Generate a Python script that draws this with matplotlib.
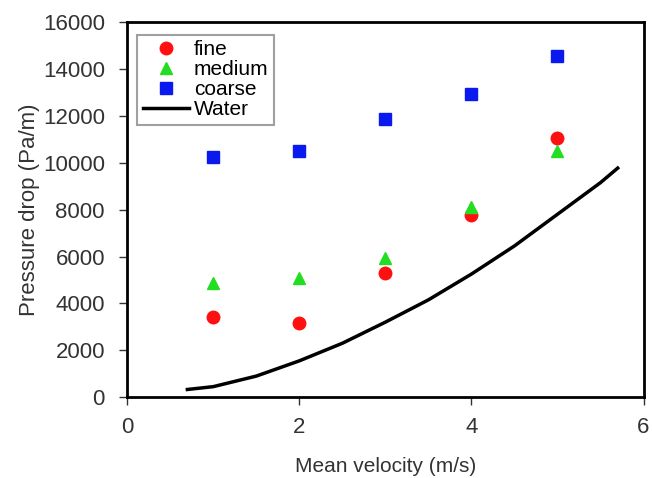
import numpy as np
import matplotlib.pyplot as plt

plt.rcParams['font.family'] = ['Liberation Sans', 'DejaVu Sans']

velocity = [1, 2, 3, 4, 5]
fine = [3400, 3150, 5300, 7750, 11050]
medium = [4850, 5100, 5950, 8100, 10500]
coarse = [10250, 10500, 11850, 12950, 14550]

water_v = [0.7, 1.0, 1.5, 2.0, 2.5, 3.0, 3.5, 4.0, 4.5, 5.0, 5.5, 5.7]
water_dp = [330, 450, 900, 1550, 2300, 3200, 4150, 5250, 6450, 7800, 9150, 9770]

fig = plt.figure(figsize=(6.52, 4.78), dpi=100)
ax = fig.add_axes([0.195, 0.169, 0.792, 0.785])

ax.plot(velocity, fine, 'o', color='#ff1010', markersize=9, label='fine', linestyle='none')
ax.plot(velocity, medium, '^', color='#22dd22', markersize=9, label='medium', linestyle='none')
ax.plot(velocity, coarse, 's', color='#0a1aee', markersize=9, label='coarse', linestyle='none')
ax.plot(water_v, water_dp, '-', color='black', linewidth=2.5, label='Water')

ax.set_xlim(0, 6)
ax.set_ylim(0, 16000)
ax.set_xticks([0, 2, 4, 6])
ax.set_yticks(np.arange(0, 16001, 2000))
ax.tick_params(direction='out', length=6, width=1, labelsize=16, colors='#333333')
ax.tick_params(axis='y', pad=10)
ax.tick_params(axis='x', pad=8)
for s in ax.spines.values():
    s.set_linewidth(2)
    s.set_color('black')

ax.set_xlabel('Mean velocity (m/s)', fontsize=15, color='#333333', labelpad=14)
ax.set_ylabel('Pressure drop (Pa/m)', fontsize=16, color='#333333', labelpad=2)

leg = ax.legend(loc='upper left', fontsize=15, frameon=True, fancybox=False,
                edgecolor='#888888', handlelength=2.2, handletextpad=0.25,
                labelspacing=0.05, borderpad=0.25, borderaxespad=0.0,
                bbox_to_anchor=(0.02, 0.965))
leg.get_frame().set_linewidth(1.5)

fig.savefig('out.png', dpi=100)
